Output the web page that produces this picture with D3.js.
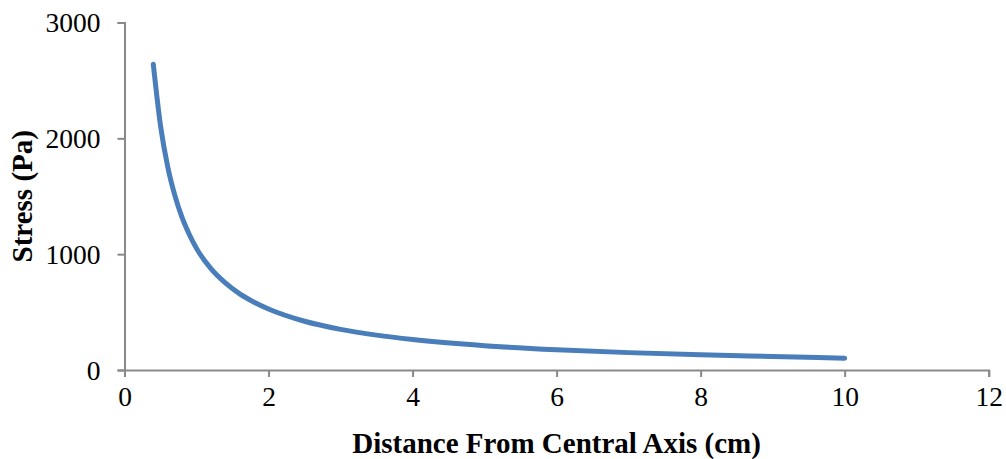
<!DOCTYPE html>
<html>
<head>
<meta charset="utf-8">
<script src="https://cdn.jsdelivr.net/npm/d3@7"></script>
<style>
  body { margin: 0; background: #fff; }
  text { font-family: "Liberation Serif", "Times New Roman", serif; fill: #000; }
</style>
</head>
<body>
<div id="chart"></div>
<script>
// values
const distance = [0.4, 0.5, 0.6, 0.7, 0.8, 0.9, 1.0, 1.2, 1.4, 1.6, 1.8, 2.0, 2.5, 3.0, 3.5, 4.0, 5.0, 6.0, 7.0, 8.0, 9.0, 10.0];
const stress   = [2640, 2110, 1755, 1505, 1315, 1170, 1050, 875, 752, 657, 585, 527, 421, 351, 301, 263, 210, 175, 150, 131, 116, 102];
const xTicks = [0, 2, 4, 6, 8, 10, 12];
const yTicks = [0, 1000, 2000, 3000];

const width = 1006, height = 459;
const margin = { top: 22.5, left: 124.5, bottom: 89, right: 17.3 };
const iwidth = width - margin.left - margin.right;
const iheight = height - margin.top - margin.bottom;

const svg = d3.select("#chart").append("svg")
    .attr("width", width)
    .attr("height", height);

const g = svg.append("g").attr("transform", `translate(${margin.left},${margin.top})`);

const x = d3.scaleLinear().domain([0, 12]).range([0, iwidth]);
const y = d3.scaleLinear().domain([0, 3000]).range([iheight, 0]);

const xAxis = g.append("g")
    .attr("transform", `translate(0,${iheight})`)
    .call(d3.axisBottom(x).tickValues(xTicks).tickSize(7).tickPadding(9).tickFormat(d3.format("d")));

const yAxis = g.append("g")
    .call(d3.axisLeft(y).tickValues(yTicks).tickSize(7).tickPadding(17).tickFormat(d3.format("d")));

[xAxis, yAxis].forEach(a => {
    a.attr("font-family", null).attr("font-size", null);
    a.select(".domain").attr("stroke", "#898989").attr("stroke-width", 2);
    a.selectAll(".tick line").attr("stroke", "#898989").attr("stroke-width", 2);
    a.selectAll(".tick text")
        .style("font-family", '"Liberation Serif", "Times New Roman", serif')
        .style("font-size", "27.5px")
        .attr("fill", "#000");
});
yAxis.selectAll(".tick text").attr("dy", "0.34em");

const pts = distance.map((d, i) => ({ d: d, s: stress[i] }));

const line = d3.line()
    .x(p => x(p.d))
    .y(p => y(p.s))
    .curve(d3.curveMonotoneX);

g.append("path")
    .datum(pts)
    .attr("fill", "none")
    .attr("stroke", "#4a7ebb")
    .attr("stroke-width", 5)
    .attr("stroke-linecap", "round")
    .attr("stroke-linejoin", "round")
    .attr("d", line);

svg.append("text")
    .attr("x", margin.left + iwidth / 2)
    .attr("y", 453)
    .attr("text-anchor", "middle")
    .style("font-size", "29px")
    .style("font-weight", "bold")
    .text("Distance From Central Axis (cm)");

svg.append("text")
    .attr("transform", `translate(32,${margin.top + iheight / 2}) rotate(-90)`)
    .attr("text-anchor", "middle")
    .style("font-size", "29px")
    .style("font-weight", "bold")
    .text("Stress (Pa)");
</script>
</body>
</html>
